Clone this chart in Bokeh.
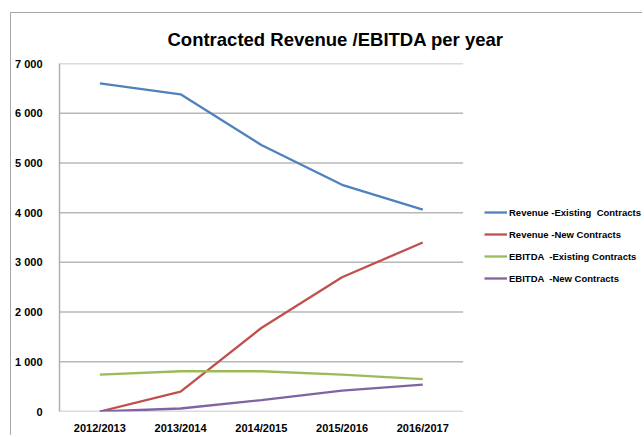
from bokeh.plotting import figure
from bokeh.models import Legend, LegendItem, FixedTicker, Range1d
from bokeh.embed import file_html
from bokeh.resources import INLINE

years = ["2012/2013", "2013/2014", "2014/2015", "2015/2016", "2016/2017"]
revenue_existing = [6600, 6380, 5360, 4560, 4060]
revenue_new = [0, 400, 1680, 2700, 3400]
ebitda_existing = [740, 810, 810, 740, 650]
ebitda_new = [0, 60, 230, 420, 540]

series_names = ["Revenue -Existing  Contracts", "Revenue -New Contracts",
                "EBITDA  -Existing Contracts", "EBITDA  -New Contracts"]
y_ticks = [0, 1000, 2000, 3000, 4000, 5000, 6000, 7000]
y_tick_labels = ["0", "1 000", "2 000", "3 000", "4 000", "5 000", "6 000", "7 000"]

colors = ["#4F81BD", "#C0504D", "#9BBB59", "#8064A2"]
FONT = "Liberation Sans"

# layout (pixels)
W, H = 632, 423
ML, MT, MB = 46, 50, 25
CAT_PX = 81
frame_w = W - ML
n = len(years)
xpos = [i + 0.5 for i in range(n)]

p = figure(width=W, height=H, x_range=Range1d(0, frame_w / CAT_PX),
           y_range=Range1d(y_ticks[0], y_ticks[-1]), output_backend="svg",
           toolbar_location=None,
           min_border_left=ML, min_border_right=0, min_border_top=MT, min_border_bottom=MB,
           title="Contracted Revenue /EBITDA per year")
p.margin = (12, 0, 0, 10)
p.styles = {"border-left": "1px solid #a6a6a6", "border-top": "1px solid #a6a6a6"}
p.outline_line_color = None
p.background_fill_color = "white"
p.border_fill_color = "white"

p.title.align = "left"
p.title.offset = 108
p.title.standoff = 27
p.title.text_font = FONT
p.title.text_font_style = "bold"
p.title.text_font_size = "18.5px"
p.title.text_color = "black"

# gridlines only across the category area
p.xgrid.grid_line_color = None
p.ygrid.grid_line_color = None
p.segment(x0=[0] * len(y_ticks), x1=[n] * len(y_ticks), y0=y_ticks, y1=y_ticks,
          line_color="#b8b8b8", line_width=1.5)

renderers = []
for vals, c in zip([revenue_existing, revenue_new, ebitda_existing, ebitda_new], colors):
    r = p.line(xpos, vals, line_color=c, line_width=2.3)
    renderers.append(r)

p.yaxis.ticker = FixedTicker(ticks=y_ticks)
p.yaxis.major_label_overrides = {t: l for t, l in zip(y_ticks, y_tick_labels)}
p.xaxis.ticker = FixedTicker(ticks=xpos)
p.xaxis.major_label_overrides = {x: y for x, y in zip(xpos, years)}
for ax in (p.xaxis, p.yaxis):
    ax.major_tick_line_color = None
    ax.minor_tick_line_color = None
    ax.major_label_text_font = FONT
    ax.major_label_text_font_style = "bold"
    ax.major_label_text_font_size = "11px"
    ax.major_label_text_color = "black"
p.yaxis.axis_line_color = "#b0b0b0"
p.yaxis.axis_line_width = 1.5
p.xaxis.axis_line_color = None
p.yaxis.major_label_standoff = 11
p.xaxis.major_label_standoff = 4

legend = Legend(items=[LegendItem(label=s, renderers=[r]) for s, r in zip(series_names, renderers)],
                location=(425, 123), orientation="vertical",
                glyph_width=23, glyph_height=20, label_height=20, spacing=2,
                label_standoff=2, padding=0, margin=0,
                border_line_color=None, background_fill_alpha=0,
                label_text_font=FONT, label_text_font_style="bold",
                label_text_font_size="9.5px", label_text_color="black")
p.add_layout(legend)

open("out.html", "w").write(file_html(p, INLINE))
